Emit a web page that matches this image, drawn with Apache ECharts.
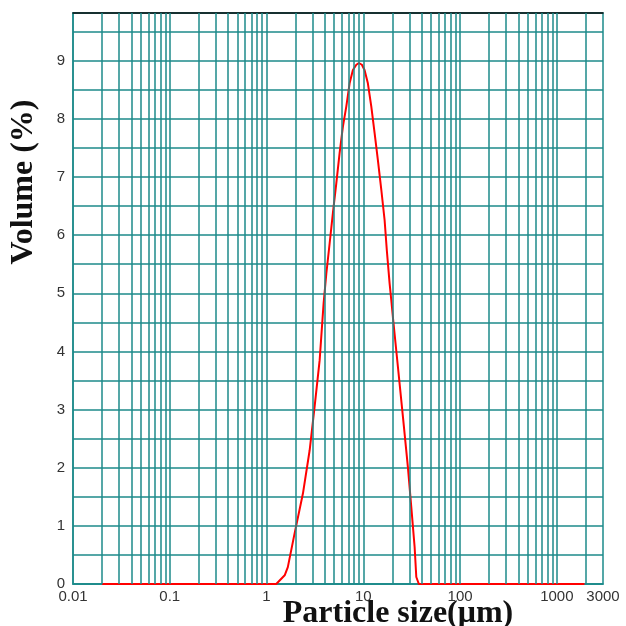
<!DOCTYPE html>
<html>
<head>
<meta charset="utf-8">
<script src="https://cdn.jsdelivr.net/npm/echarts@6/dist/echarts.min.js"></script>
<style>
  html, body { margin: 0; padding: 0; background: #ffffff; }
  #chart { width: 626px; height: 626px; }
</style>
</head>
<body>
<div id="chart"></div>
<script>
// Particle size distribution (volume %), log-scaled size axis in µm
const particleSize = [0.02, 1.26, 1.54, 1.66, 1.95, 2.38, 2.79, 3.14, 3.54, 3.89, 4.15, 4.49, 4.85, 5.26, 5.69, 6.16, 6.67, 7.22, 7.81, 8.47, 9.01, 9.67, 10.3, 11.15, 12.1, 13.1, 14.15, 15.35, 16.6, 17.5, 18.7, 19.47, 20.2, 21.9, 25.7, 28.9, 31.3, 33.9, 35.3, 37.5, 1930];
const volumePct    = [0,    0,    0.15, 0.29, 0.87, 1.56, 2.30, 3.05, 3.85, 4.83, 5.34, 5.86, 6.38, 6.89, 7.41, 7.87, 8.21, 8.61, 8.84, 8.93, 8.96, 8.93, 8.84, 8.61,  8.21, 7.75, 7.29,  6.78,  6.26, 5.74, 5.17, 4.88,  4.60, 4.02, 2.87, 2.01, 1.33, 0.64, 0.12, 0,    0];

const xTickLabels = [0.01, 0.1, 1, 10, 100, 1000, 3000];
const yTickLabels = [0, 1, 2, 3, 4, 5, 6, 7, 8, 9];
const decadeStarts = [0.01, 0.1, 1, 10, 100, 1000];
const decadeSteps = [1, 2, 3, 4, 5, 6, 7, 8, 9];

const X_MIN = 0.01, X_MAX = 3000, Y_MAX = 9.82;
const TEAL = '#1d8a8a';
const LABEL_FONT = { fontFamily: 'Liberation Sans, Arial, sans-serif', fontSize: 15, color: '#333333' };
const TITLE_FONT = 'bold 32px "Liberation Serif", "Times New Roman", serif';

// log-paper style vertical rules: 1..9 within each decade
const verticalRules = [];
decadeStarts.forEach(function (d) {
  decadeSteps.forEach(function (m) {
    const v = +(d * m).toPrecision(6);
    if (v > X_MIN && v < X_MAX) verticalRules.push({ xAxis: v });
  });
});

const chart = echarts.init(document.getElementById('chart'), null, { renderer: 'canvas' });

chart.setOption({
  animation: false,
  backgroundColor: '#ffffff',
  grid: {
    left: 73, top: 13, right: 23, bottom: 42,
    show: true, borderColor: TEAL, borderWidth: 1.5, backgroundColor: '#ffffff'
  },
  xAxis: [{
    type: 'log', logBase: 10, min: X_MIN, max: X_MAX,
    axisLine: { show: true, lineStyle: { color: TEAL, width: 1.5 } },
    axisTick: { show: false },
    splitLine: { show: false },
    axisLabel: Object.assign({
      customValues: xTickLabels,
      margin: 5,
      formatter: function (v) { return String(+(+v).toPrecision(6)); }
    }, LABEL_FONT)
  }, {
    type: 'log', logBase: 10, min: X_MIN, max: X_MAX, position: 'top',
    axisLine: { show: true, lineStyle: { color: '#111111', width: 1.5 } },
    axisTick: { show: false },
    axisLabel: { show: false },
    splitLine: { show: false }
  }],
  yAxis: {
    type: 'value', min: 0, max: Y_MAX, interval: 0.5,
    axisLine: { show: true, lineStyle: { color: TEAL, width: 1.5 } },
    axisTick: { show: false },
    splitLine: { show: true, lineStyle: { color: TEAL, width: 1.5 } },
    axisLabel: Object.assign({
      margin: 8,
      formatter: function (v) { return yTickLabels.indexOf(v) >= 0 ? String(v) : ''; }
    }, LABEL_FONT)
  },
  series: [{
    // carrier for the vertical rules
    type: 'line', z: 1, silent: true,
    data: [[X_MIN, 0]], showSymbol: false,
    lineStyle: { width: 0 },
    markLine: {
      silent: true, symbol: 'none', animation: false,
      label: { show: false },
      lineStyle: { color: TEAL, width: 1.5, type: 'solid' },
      emphasis: { disabled: true },
      data: verticalRules
    }
  }, {
    type: 'line', z: 3,
    data: particleSize.map(function (x, i) { return [x, volumePct[i]]; }),
    showSymbol: false, smooth: false,
    lineStyle: { color: '#ff0000', width: 2 }
  }],
  graphic: [{
    type: 'text', x: 24, y: 182, rotation: Math.PI / 2, z: -1,
    style: { text: 'Volume (%)', font: TITLE_FONT, fill: '#111111', textAlign: 'center', textVerticalAlign: 'middle' }
  }, {
    type: 'text', x: 398, y: 614, z: -1,
    style: { text: 'Particle size(\u03bcm)', font: TITLE_FONT, fill: '#111111', textAlign: 'center', textVerticalAlign: 'middle' }
  }]
});
</script>
</body>
</html>
